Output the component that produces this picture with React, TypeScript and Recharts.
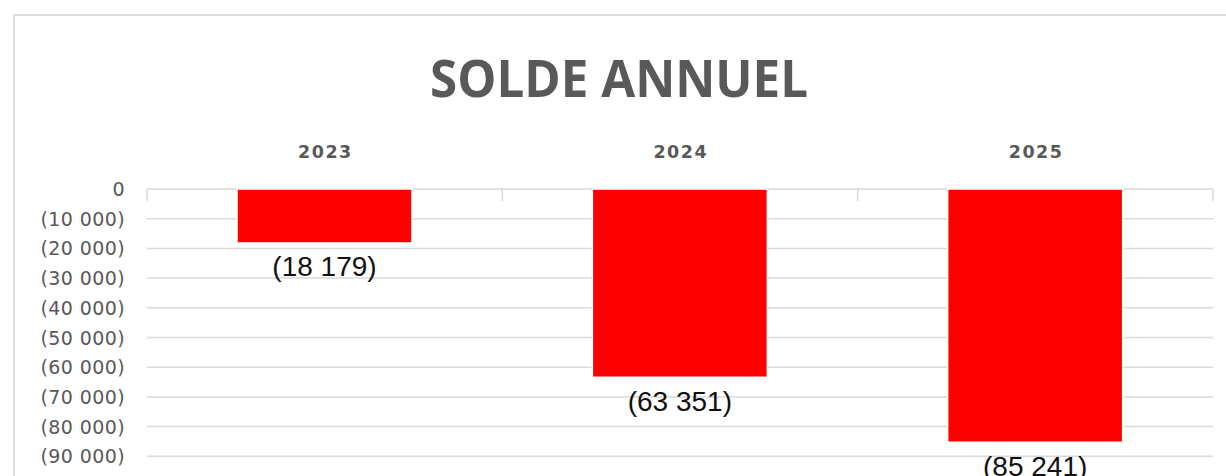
import React from "react";
import { BarChart, Bar, XAxis, YAxis, CartesianGrid, LabelList } from "recharts";

const years = ["2023", "2024", "2025"];
const soldes = [-18179, -63351, -85241];
const yTicks = [0, -10000, -20000, -30000, -40000, -50000, -60000, -70000, -80000, -90000];
const chartTitle = "SOLDE ANNUEL";

const data = years.map((year, i) => ({ year, solde: soldes[i] }));

const sep = (n: number) => String(Math.round(n)).replace(/\B(?=(\d{3})+(?!\d))/g, " ");
const fmt = (n: number) => (n === 0 ? "0" : n < 0 ? `(${sep(-n)})` : sep(n));

const XTick = (props: any) => {
  const { x, y, payload, index } = props;
  const off = payload && typeof payload.offset === "number" ? payload.offset : 0;
  const axisY = y + 31;
  return (
    <g>
      <text
        x={x + 0.75}
        y={y}
        textAnchor="middle"
        fontFamily="DejaVu Sans"
        fontWeight="bold"
        fontSize={17.5}
        letterSpacing={1.5}
        fill="#595959"
      >
        {payload.value}
      </text>
      {off > 0 && (
        <line x1={x - off} x2={x - off} y1={axisY} y2={axisY + 12} stroke="#d9d9d9" strokeWidth={1.5} />
      )}
      {off > 0 && index === years.length - 1 && (
        <line x1={x + off} x2={x + off} y1={axisY} y2={axisY + 12} stroke="#d9d9d9" strokeWidth={1.5} />
      )}
    </g>
  );
};

const YTick = (props: any) => {
  const { x, y, payload } = props;
  return (
    <text
      x={x}
      y={y}
      textAnchor="end"
      dominantBaseline="central"
      fontFamily="DejaVu Sans"
      fontSize={19}
      letterSpacing={0.4}
      fill="#595959"
    >
      {fmt(Number(payload.value))}
    </text>
  );
};

const renderLabel = (props: any) => {
  const { x, y, width, height, value } = props;
  const bottom = Math.max(Number(y), Number(y) + Number(height));
  return (
    <text
      x={Number(x) + Number(width) / 2}
      y={bottom + 24}
      textAnchor="middle"
      dominantBaseline="central"
      fontFamily="Liberation Sans"
      fontSize={28}
      fill="#111111"
    >
      {fmt(Number(value))}
    </text>
  );
};

export default function App() {
  return (
    <div
      style={{
        position: "absolute",
        left: 0,
        top: 0,
        width: 1226,
        height: 476,
        overflow: "hidden",
        background: "#ffffff",
      }}
    >
      <div
        style={{
          position: "absolute",
          left: 13,
          top: 14,
          width: 1300,
          height: 600,
          border: "2px solid #dedede",
          boxSizing: "border-box",
        }}
      />
      <div style={{ position: "absolute", left: 0, top: 0 }}>
        <BarChart
          width={1226}
          height={496}
          data={data}
          margin={{ top: 159, right: 13, bottom: 10, left: 0 }}
        >
          <CartesianGrid vertical={false} stroke="#d9d9d9" strokeWidth={1.5} />
          <XAxis
            dataKey="year"
            orientation="top"
            height={30}
            axisLine={false}
            tickLine={false}
            tickSize={0}
            tickMargin={31}
            tick={<XTick />}
            interval={0}
          />
          <YAxis
            type="number"
            domain={[-100000, 0]}
            ticks={yTicks}
            interval={0}
            width={147}
            axisLine={false}
            tickLine={false}
            tickSize={0}
            tickMargin={22}
            tick={<YTick />}
          />
          <Bar dataKey="solde" fill="#ff0000" stroke="#ffffff" strokeWidth={1.5} barSize={175} isAnimationActive={false}>
            <LabelList dataKey="solde" content={renderLabel} />
          </Bar>
        </BarChart>
      </div>
      <svg
        width={1226}
        height={120}
        style={{ position: "absolute", left: 0, top: 0, pointerEvents: "none" }}
      >
        <text
          x={619}
          y={97}
          textAnchor="middle"
          fontFamily="Open Sans"
          fontWeight="bold"
          fontSize={52}
          textLength={378}
          lengthAdjust="spacingAndGlyphs"
          fill="#595959"
        >
          {chartTitle}
        </text>
      </svg>
    </div>
  );
}
